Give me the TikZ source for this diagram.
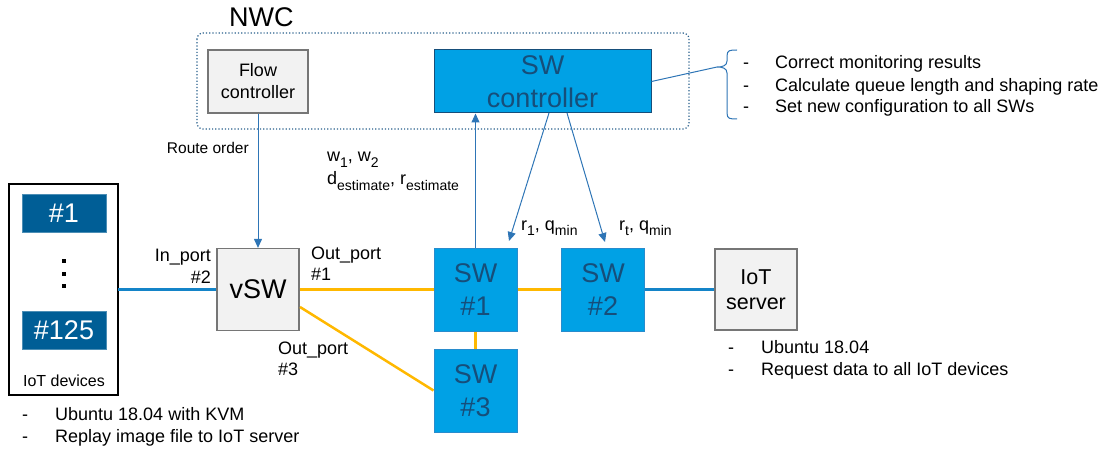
\documentclass[tikz,border=0pt]{standalone}
\usepackage{fontspec}
\setmainfont{Liberation Sans}
\usetikzlibrary{arrows.meta,calc}
\definecolor{swblue}{RGB}{0,161,229}
\definecolor{swborder}{RGB}{40,140,205}
\definecolor{swtext}{RGB}{22,78,122}
\definecolor{devblue}{RGB}{0,94,150}
\definecolor{boxfill}{RGB}{242,242,242}
\definecolor{boxgray}{RGB}{118,118,118}
\definecolor{linkblue}{RGB}{20,132,200}
\definecolor{arrowblue}{RGB}{46,117,182}
\definecolor{linkyellow}{RGB}{255,184,0}
\definecolor{nwcblue}{RGB}{40,95,140}
\newcommand{\subtxt}[1]{\raisebox{-0.32em}{\fontsize{14}{14}\selectfont #1}}
\begin{document}
\begin{tikzpicture}[x=1pt,y=-1pt,
  graybox/.style={draw=boxgray, fill=boxfill, line width=1.2pt, inner sep=0pt, align=center},
  swbox/.style={draw=swborder, fill=swblue, line width=1pt, inner sep=0pt, align=center, text=swtext, font=\fontsize{27}{33}\selectfont},
  devbox/.style={fill=devblue, draw=devblue!70!white, line width=0.8pt, text=white, minimum width=84pt, minimum height=38pt, inner sep=0pt, font=\fontsize{27}{27}\selectfont},
  lbl/.style={inner sep=0pt, anchor=base west, font=\fontsize{18}{22}\selectfont},
  ylink/.style={draw=linkyellow, line width=2.5pt},
  blink/.style={draw=linkblue, line width=2.5pt},
  arr/.style={draw=arrowblue, line width=1pt, -{Triangle[length=9pt,width=8pt]}},
  dotsq/.style={fill=black}
]
\useasboundingbox (0,0) rectangle (1108,449);

% NWC
\node[inner sep=0pt, anchor=base west, font=\fontsize{27}{27}\selectfont] (nwct) at (229,27) {NWC};
\draw[nwcblue, line width=1.2pt, dotted, rounded corners=6pt] (197,33) rectangle (689,129);
\node[graybox, minimum width=100pt, minimum height=63pt, font=\fontsize{18}{22}\selectfont] (flow) at (258,81.5) {Flow\\controller};
\node[swbox, draw=swtext, minimum width=217pt, minimum height=63pt] (swc) at (542.5,81.5) {SW\\controller};

% brace and list
\coordinate (bt) at (717,67);
\draw[arrowblue, line width=1pt] (swc.east) -- (bt);
\draw[arrowblue, line width=1pt] (737,50) .. controls (730,50) and (727,50) .. (727,56) -- (727,61)
  .. controls (727,66) and (722,67) .. (bt) .. controls (722,67) and (727,68) .. (727,73) -- (727,113)
  .. controls (727,119) and (730,119) .. (737,119);
\node[lbl] (d1) at (743,69) {-};
\node[lbl] (l1) at (775,69) {Correct monitoring results};
\node[lbl] (d2) at (743,92) {-};
\node[lbl] (l2) at (775,92) {Calculate queue length and shaping rate};
\node[lbl] (d3) at (743,113) {-};
\node[lbl] (l3) at (775,113) {Set new configuration to all SWs};

% IoT devices
\draw[black, line width=1.2pt, fill=white] (9,184) rectangle (118,395);
\node[inner sep=0pt, minimum width=109pt, minimum height=211pt] (dev) at (63.5,289.5) {};
\node[devbox] (d1box) at (64,213.5) {\#1};
\node[devbox] (d125box) at (64,330.5) {\#125};
\fill[dotsq] (62,259) rectangle (66,263);
\fill[dotsq] (62,272) rectangle (66,276);
\fill[dotsq] (62,284) rectangle (66,288);
\node[inner sep=0pt, anchor=base, font=\fontsize{16}{16}\selectfont] (devt) at (64,386) {IoT devices};
\node[lbl] (u1d) at (22,420) {-};
\node[lbl] (u1) at (55,420) {Ubuntu 18.04 with KVM};
\node[lbl] (u2d) at (22,442) {-};
\node[lbl] (u2) at (55,442) {Replay image file to IoT server};

% switches
\node[graybox, minimum width=82pt, minimum height=82pt, font=\fontsize{27}{27}\selectfont] (vsw) at (258,289.5) {vSW};
\node[swbox, minimum width=83pt, minimum height=83pt] (sw1) at (475.5,289.5) {SW\\\#1};
\node[swbox, minimum width=83pt, minimum height=83pt] (sw3) at (475.5,390.5) {SW\\\#3};
\node[swbox, minimum width=83pt, minimum height=83pt] (sw2) at (603,289.5) {SW\\\#2};
\node[graybox, minimum width=82pt, minimum height=81pt, font=\fontsize{21.5}{25}\selectfont] (srv) at (756,289.5) {IoT\\server};

% links
\draw[blink] (dev.east |- vsw.west) -- (vsw.west);
\draw[ylink] (vsw.east) -- (sw1.west);
\coordinate (v3) at (300,307);
\draw[ylink] (v3) -- (sw3.west);
\draw[ylink] (sw1.east) -- (sw2.west);
\draw[ylink] (sw1.south) -- (sw3.north);
\draw[blink] (sw2.east) -- (srv.west);

% control arrows
\draw[arr] (flow.south) -- (vsw.north);
\draw[arr] (sw1.north) -- (sw1.north |- swc.south);
\coordinate (s1) at (549,113);
\coordinate (t1) at (509,241);
\coordinate (s2) at (567,113);
\coordinate (t2) at (605,242);
\draw[arr] (s1) -- (t1);
\draw[arr] (s2) -- (t2);

% labels
\node[inner sep=0pt, anchor=base east, font=\fontsize{15.5}{15.5}\selectfont] (route) at (249,154) {Route order};
\node[lbl] (w) at (327,162) {w\subtxt{1}, w\subtxt{2}};
\node[lbl] (de) at (327,185) {d\subtxt{estimate}, r\subtxt{estimate}};
\node[lbl] (r1) at (521,230) {r\subtxt{1}, q\subtxt{min}};
\node[lbl] (rt) at (619,230) {r\subtxt{t}, q\subtxt{min}};
\node[lbl, anchor=base east] (inp) at (211,261) {In\_port};
\node[lbl, anchor=base east] (inp2) at (211,283) {\#2};
\node[lbl] (op1) at (311,259) {Out\_port};
\node[lbl] (op1b) at (311,280) {\#1};
\node[lbl] (op3) at (278,354) {Out\_port};
\node[lbl] (op3b) at (278,375) {\#3};
\node[lbl] (s1d) at (728,353) {-};
\node[lbl] (s1t) at (761,353) {Ubuntu 18.04};
\node[lbl] (s2d) at (728,375) {-};
\node[lbl] (s2t) at (761,375) {Request data to all IoT devices};
\end{tikzpicture}
\end{document}
